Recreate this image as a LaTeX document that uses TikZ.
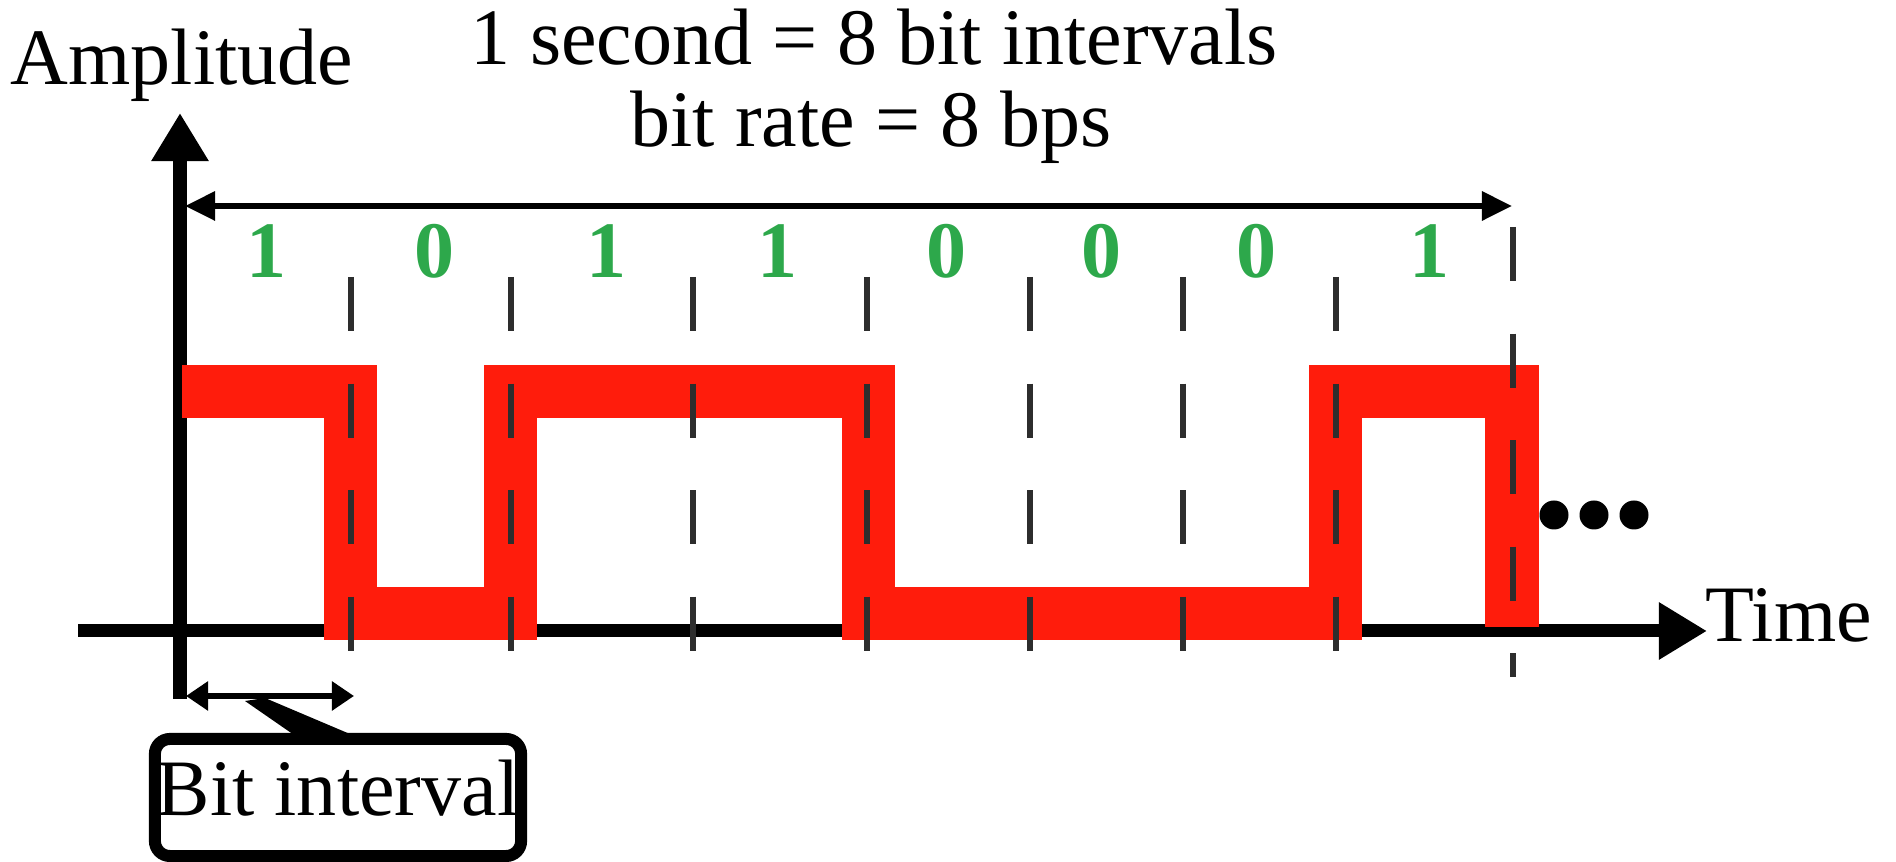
\documentclass[tikz,border=0pt]{standalone}
\usepackage{fontspec}
\setmainfont{Liberation Serif}
\usetikzlibrary{arrows.meta}

\definecolor{sigred}{RGB}{255,28,12}
\definecolor{bitgreen}{RGB}{45,168,75}
\definecolor{sepgray}{RGB}{45,45,45}

\tikzset{
    lbl/.style={anchor=base, inner sep=0pt, font=\fontsize{22.76pt}{23.3pt}\selectfont},
    bitlbl/.style={lbl, text=bitgreen, font=\fontsize{22.76pt}{23.3pt}\selectfont\bfseries},
    axis/.style={line width=0.13cm, -{Triangle[length=0.48cm,width=0.54cm]}},
    span/.style={line width=0.06cm, {Triangle[length=#1,width=0.28cm]}-{Triangle[length=#1,width=0.28cm]}},
    span/.default=0.3cm,
    signal/.style={sigred, line width=0.53cm, line join=miter},
    bitsep/.style={sepgray, line width=0.06cm, dash pattern=on 0.54cm off 0.525cm},
    callbox/.style={draw, line width=0.12cm, rounded corners=0.15cm, inner sep=0pt,
        minimum width=3.66cm, minimum height=1.17cm, text height=0.55cm, text depth=0.2cm,
        font=\fontsize{22.76pt}{23.3pt}\selectfont}
}

\begin{document}
\begin{tikzpicture}[x=0.01cm,y=-0.01cm]
    \useasboundingbox (0,0) rectangle (1896,862);

    \coordinate (origin) at (180,631);
    \coordinate (ytop) at (180,113);
    \coordinate (tend) at (1707,631);
    \coordinate (s0) at (185,206);
    \coordinate (s8) at (1512,206);
    \coordinate (i0) at (186,696);
    \coordinate (i1) at (354,696);
    \coordinate (ptip) at (245,701);

    \draw[axis]
        (78,631) -- (tend);
    \draw[axis]
        (180,699) -- (ytop);
    \node[lbl] (amp) at (182,85) {Amplitude};
    \node[lbl, anchor=base west] (time) at (1705,642) {Time};

    \node[lbl] (title1) at (874,65) {1 second = 8 bit intervals};
    \node[lbl] (title2) at (871,147) {bit rate = 8 bps};
    \draw[span] (s0) -- (s8);

    \draw[signal]
        (182,391.5) -| (350.5,613.5) -| (510.5,391.5) -| (868.5,613.5) -| (1335.5,391.5) -| (1512,627);

    \foreach \x in {351,511,693,867,1030,1183,1336}
        \draw[bitsep] (\x,277) -- (\x,651);
    \draw[bitsep] (1513,227) -- (1513,677);

    \foreach \b/\x [count=\i] in {1/267,0/435,1/607,1/778,0/947,0/1102,0/1257,1/1429}
        \node[bitlbl] (bit\i) at (\x,278) {\b};

    \foreach \x in {1554,1594,1634}
        \fill (\x,515) circle[radius=0.145cm];

    \draw[span=0.22cm] (i0) -- (i1);
    \node[callbox] (bitbox) at (338,797.5) {Bit interval};
    \fill (ptip) -- ++(20,-3) -- (357,737) -- (297,737) -- cycle;
\end{tikzpicture}
\end{document}
